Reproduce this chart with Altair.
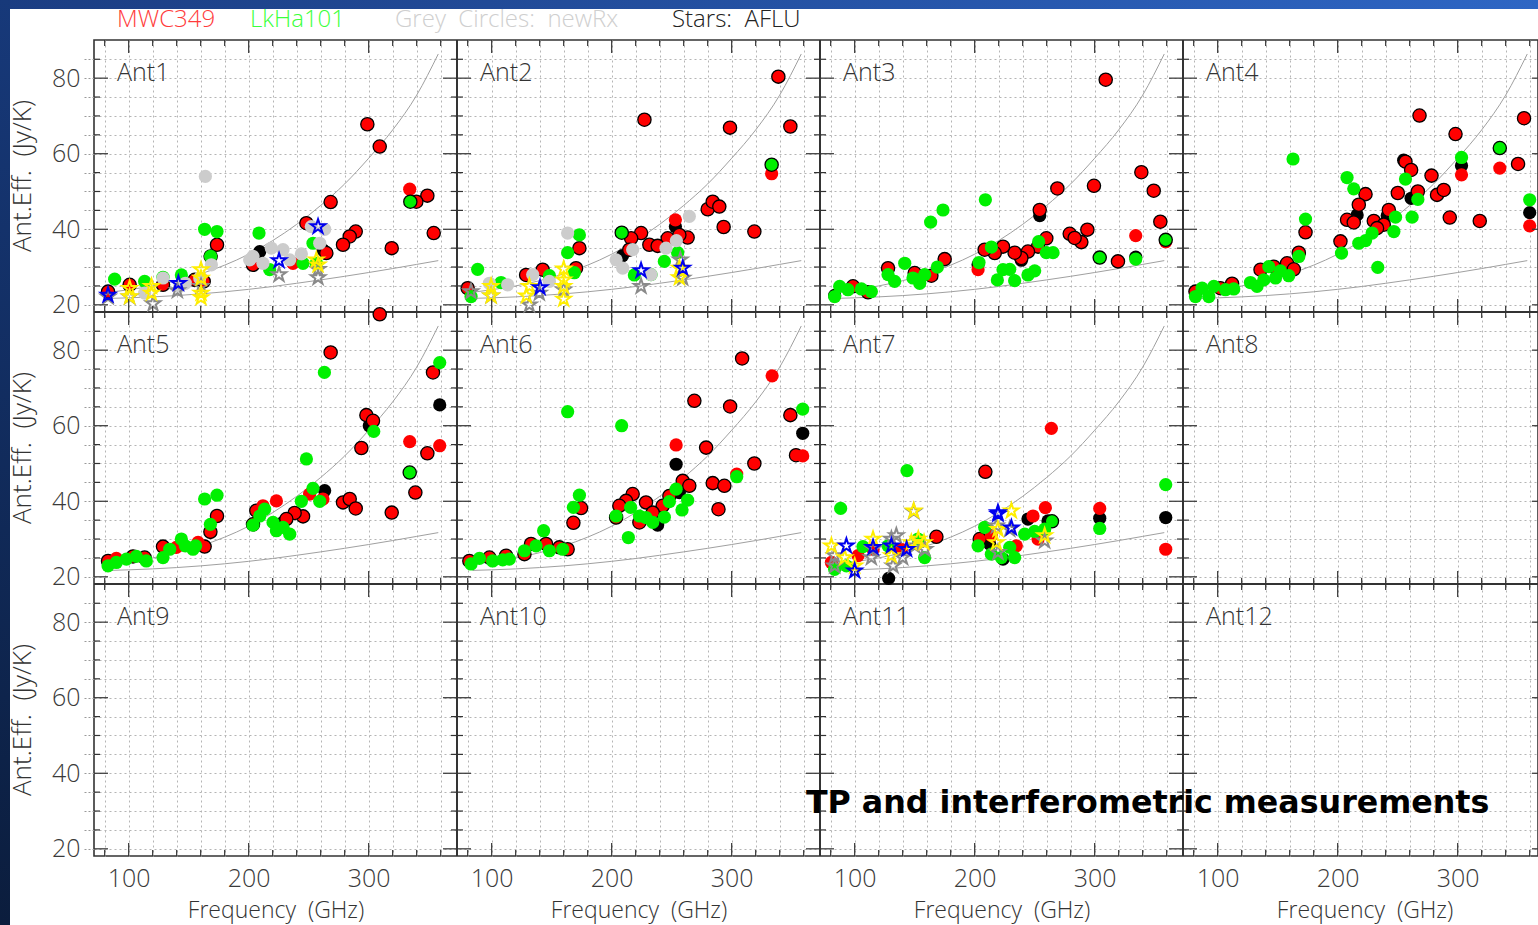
import altair as alt
import pandas as pd

ANTS = [f"Ant{i}" for i in range(1, 13)]

# Panel geometry: 4 x 3 antennas sharing one frequency / Jy-per-K range each
F_DOMAIN = [71.1, 373.6]
V_DOMAIN = [18.1, 90.1]
FSPAN = F_DOMAIN[1] - F_DOMAIN[0]
VSPAN = V_DOMAIN[1] - V_DOMAIN[0]
PANEL_W, PANEL_H = 363, 272
PLOT_W, PLOT_H = 1444, 3 * PANEL_H
FONT = "Open Sans"
GAP = "\u00a0\u00a0"  # wide word spacing used in the plot lettering

# five-pointed star outline in the unit box used by Vega symbols
STAR = ("M0,-1L0.225,-0.309L0.951,-0.309L0.363,0.118L0.588,0.809L0,0.382"
        "L-0.588,0.809L-0.363,0.118L-0.951,-0.309L-0.225,-0.309Z")

# Model curves (frequency GHz, Jy/K)
curve_freq = [84, 100, 120, 140, 160, 180, 200, 220, 240, 260, 280, 300, 320, 340, 358]
curve_hi = [23.3, 24.0, 25.0, 26.4, 28.2, 30.5, 33.4, 37.0, 41.3, 46.3, 52.0, 58.8, 66.3, 75.5, 86.4]
curve_lo = [21.7, 21.85, 22.1, 22.45, 22.9, 23.45, 24.1, 24.85, 25.7, 26.6, 27.55, 28.55, 29.6, 30.7, 31.7]

# Ant1 measurements (frequency GHz, Jy/K)
ant1_mwc_edge = [(298.9, 67.8), (309.2, 61.9), (268.3, 47.2), (348.9, 48.9), (339.7, 47.3), (354.2, 39.0),
                 (319.2, 35.0), (289.2, 39.4), (284.2, 38.1), (278.6, 35.9), (264.7, 33.7), (173.6, 35.9),
                 (168.3, 32.8), (162.5, 26.2), (203.6, 30.6), (248.1, 41.6), (128.6, 25.3), (155.0, 26.6),
                 (100.8, 25.3), (82.8, 23.5)]
ant1_mwc = [(334.2, 50.6), (236.9, 31.0)]
ant1_black = [(209.2, 34.1), (262.0, 34.5)]
ant1_lkha = [(163.3, 40.0), (173.6, 39.4), (168.3, 32.8), (208.6, 39.0), (88.3, 26.8), (113.3, 26.2),
             (143.9, 27.9), (128.6, 27.3), (217.5, 29.3), (245.3, 31.0), (256.4, 31.0), (253.6, 36.3)]
ant1_lkha_edge = [(334.7, 47.3)]
ant1_grey = [(163.9, 54.0), (203.6, 32.8), (211.9, 31.0), (218.9, 35.0), (228.6, 34.6), (234.2, 31.9),
             (243.9, 33.5), (252.2, 40.7), (263.3, 40.0), (259.2, 36.3), (168.9, 30.6), (147.2, 25.7),
             (128.6, 27.1), (113.3, 23.1), (142.5, 24.9), (159.2, 27.1), (200.8, 31.9)]
ant1_star_grey = [(82.8, 22.1), (100.8, 22.1), (120.3, 20.3), (140.6, 23.8), (160.3, 24.9), (225.3, 28.0),
                  (257.8, 29.4), (257.8, 27.2)]
ant1_star_yellow = [(100.8, 24.4), (100.8, 22.2), (119.0, 24.9), (119.0, 23.1), (160.3, 29.3), (160.3, 27.1),
                    (160.3, 21.9), (160.3, 23.1), (256.4, 31.9), (257.8, 30.6)]
ant1_star_blue = [(82.8, 22.6), (141.4, 25.7), (225.3, 31.7), (257.8, 40.7)]

# Ant2
ant2_mwc_edge = [(338.9, 80.4), (227.3, 69.0), (298.6, 66.9), (348.9, 67.2), (280.0, 45.3), (284.2, 47.3),
                 (289.7, 46.0), (293.3, 40.6), (318.9, 39.4), (263.3, 37.8), (256.4, 38.5), (246.7, 37.6),
                 (224.5, 39.0), (216.2, 37.6), (231.4, 35.9), (238.3, 35.6), (214.7, 34.6), (173.1, 35.0),
                 (170.3, 29.7), (128.7, 27.9), (142.5, 29.3), (80.0, 24.4)]
ant2_mwc = [(333.3, 54.7), (253.1, 42.5)]
ant2_black = [(253.1, 40.7), (209.0, 33.0)]
ant2_lkha = [(173.1, 38.5), (163.3, 33.8), (168.9, 28.5), (88.3, 29.4), (107.8, 25.9), (148.1, 27.7),
             (218.9, 27.9), (243.9, 31.5), (255.0, 33.8), (232.8, 28.0), (82.8, 22.2)]
ant2_lkha_edge = [(208.4, 39.1), (333.3, 57.1)]
ant2_grey = [(163.3, 39.0), (203.7, 31.9), (209.2, 29.7), (217.5, 34.6), (232.8, 28.0), (264.7, 43.4),
             (253.9, 37.0), (245.3, 35.0), (134.2, 28.0), (148.1, 26.2), (98.1, 25.7), (113.3, 25.3)]
ant2_star_grey = [(82.8, 23.5), (99.5, 22.4), (131.4, 20.0), (139.7, 23.1), (160.0, 24.0), (224.5, 24.9),
                  (257.2, 31.9), (259.2, 27.1)]
ant2_star_yellow = [(99.5, 24.9), (99.5, 22.4), (131.4, 24.9), (129.0, 22.4), (160.0, 29.5), (160.0, 26.6),
                    (160.0, 24.9), (160.0, 21.5), (256.4, 29.7), (256.4, 27.2)]
ant2_star_blue = [(140.3, 24.6), (224.5, 29.1), (259.2, 29.7)]

# Ant3
ant3_mwc_edge = [(309.2, 79.6), (338.9, 55.1), (349.2, 50.2), (354.7, 42.0), (299.4, 51.5), (268.9, 50.8),
                 (293.9, 39.9), (279.2, 38.8), (288.9, 36.6), (283.3, 37.7), (319.4, 31.5), (254.2, 45.1),
                 (259.7, 37.6), (252.8, 35.4), (244.4, 34.1), (238.9, 32.4), (233.3, 33.8), (223.6, 35.4),
                 (216.7, 33.7), (208.3, 34.6), (175.0, 32.1), (163.9, 27.7), (127.8, 29.7), (150.0, 28.4),
                 (98.6, 24.9), (111.1, 23.3)]
ant3_mwc = [(359.2, 36.7), (334.2, 38.3), (202.8, 29.3)]
ant3_black = [(254.2, 43.6), (202.8, 30.6), (83.3, 22.5), (334.2, 32.6), (238.9, 31.8)]
ant3_lkha = [(208.9, 47.8), (173.6, 45.1), (163.3, 41.9), (168.9, 30.0), (203.6, 31.2), (213.9, 35.3),
             (218.9, 26.6), (223.6, 29.3), (229.2, 29.4), (233.3, 26.4), (244.4, 27.9), (250.0, 29.0),
             (253.3, 36.7), (259.7, 33.8), (265.3, 33.8), (334.2, 32.1), (127.8, 28.0), (133.3, 26.2),
             (141.7, 31.0), (148.6, 27.1), (154.2, 25.7), (158.3, 28.0), (87.5, 24.9), (94.4, 24.0),
             (105.6, 24.2), (113.9, 23.5), (83.3, 22.2)]
ant3_lkha_edge = [(304.2, 32.5), (359.2, 37.2)]

# Ant4
ant4_mwc_edge = [(268.2, 70.1), (298.2, 65.2), (355.3, 69.4), (350.3, 57.3), (278.2, 54.2), (282.8, 49.1),
                 (288.4, 50.4), (293.4, 43.1), (318.4, 42.2), (256.5, 57.9), (261.2, 55.7), (250.1, 49.6),
                 (266.8, 50.0), (242.6, 45.1), (223.2, 49.3), (217.6, 46.5), (207.8, 42.5), (213.4, 41.8),
                 (230.1, 42.2), (238.4, 41.2), (232.8, 40.3), (202.3, 36.8), (173.2, 39.2), (167.6, 33.8),
                 (157.8, 31.0), (163.4, 29.4), (135.7, 29.3), (146.8, 30.1), (112.0, 25.6), (102.3, 24.4),
                 (81.5, 23.5)]
ant4_mwc = [(335.1, 56.2), (303.2, 54.4), (360.0, 40.9)]
ant4_black = [(303.2, 56.8), (360.0, 44.4), (261.2, 48.2), (241.3, 43.6), (216.2, 43.8), (255.0, 58.3)]
ant4_lkha = [(162.8, 58.6), (207.8, 53.7), (213.4, 50.7), (173.2, 42.7), (167.6, 32.8), (203.2, 33.7),
             (217.6, 36.3), (223.2, 37.0), (228.7, 39.0), (246.8, 39.4), (248.2, 43.2), (262.0, 43.2),
             (266.8, 47.9), (256.5, 53.3), (233.4, 29.9), (142.6, 30.1), (127.3, 25.9), (132.8, 24.9),
             (138.4, 26.6), (148.2, 27.1), (152.3, 29.0), (159.2, 27.7), (81.5, 22.2), (87.0, 24.4),
             (92.6, 22.2), (96.8, 24.9), (106.5, 24.0), (113.4, 24.2), (303.2, 59.0), (360.0, 47.8)]
ant4_lkha_edge = [(335.1, 61.5)]

# Ant5
ant5_mwc_edge = [(309.2, 89.5), (268.3, 79.4), (353.6, 74.1), (348.9, 52.7), (338.9, 42.3), (319.2, 37.0),
                 (298.1, 62.8), (303.6, 61.3), (293.9, 54.1), (278.6, 39.7), (284.2, 40.6), (289.2, 38.1),
                 (245.3, 36.0), (238.3, 36.9), (231.4, 35.3), (206.4, 37.5), (203.6, 33.9), (173.6, 36.1),
                 (168.1, 31.9), (163.3, 28.0), (128.6, 28.0), (82.8, 24.2), (103.6, 25.4), (113.3, 25.1)]
ant5_mwc = [(334.2, 55.8), (359.2, 54.7), (250.8, 41.9), (261.9, 40.6), (223.1, 40.1), (211.9, 38.8),
            (157.8, 29.1), (139.7, 27.8), (89.7, 24.9)]
ant5_black = [(359.2, 65.5), (263.3, 42.8), (228.6, 34.4), (300.5, 60.0)]
ant5_lkha = [(359.2, 76.7), (304.2, 58.5), (263.1, 74.1), (248.1, 51.2), (253.6, 43.4), (243.9, 40.0),
             (259.2, 40.0), (220.3, 34.4), (213.3, 37.9), (203.6, 33.7), (223.1, 32.2), (228.6, 33.1),
             (234.2, 31.3), (209.2, 36.1), (163.3, 40.6), (173.6, 41.6), (168.1, 33.9), (128.6, 25.1),
             (134.2, 27.3), (143.9, 30.0), (147.2, 28.2), (153.6, 27.3), (155.8, 28.2), (82.8, 22.9),
             (89.7, 23.8), (98.1, 24.7), (106.4, 25.4), (114.7, 24.2)]
ant5_lkha_edge = [(334.2, 47.6)]

# Ant6
ant6_mwc_edge = [(308.7, 77.8), (268.9, 66.6), (298.7, 65.1), (348.9, 62.8), (353.6, 52.2), (278.7, 54.2),
                 (318.9, 50.0), (284.2, 44.8), (293.9, 44.1), (289.0, 37.9), (259.2, 45.4), (264.7, 44.1),
                 (248.1, 41.4), (242.5, 38.8), (228.6, 39.7), (234.2, 37.0), (223.1, 34.4), (217.5, 41.9),
                 (212.0, 40.1), (206.4, 38.8), (203.7, 35.7), (174.5, 38.2), (168.1, 34.3), (163.3, 27.3),
                 (156.4, 27.8), (145.3, 28.7), (132.8, 28.7), (127.3, 26.0), (112.0, 25.6), (98.1, 25.1),
                 (81.4, 24.2)]
ant6_mwc = [(333.7, 73.2), (359.2, 52.0), (253.7, 54.9), (304.2, 47.2)]
ant6_black = [(359.2, 58.0), (253.7, 49.8), (256.4, 42.3), (238.3, 33.7)]
ant6_lkha = [(163.3, 63.7), (208.3, 60.0), (173.1, 41.6), (168.1, 38.4), (143.3, 32.2), (213.9, 30.4),
             (203.7, 36.1), (215.8, 38.4), (223.1, 36.1), (228.6, 35.7), (234.2, 34.4), (243.9, 35.8),
             (248.1, 39.9), (253.7, 43.2), (263.3, 40.3), (258.6, 37.7), (304.2, 46.5), (359.2, 64.4),
             (127.3, 26.9), (137.0, 28.2), (148.1, 26.9), (159.2, 27.3), (82.8, 23.4), (89.8, 24.9),
             (100.8, 24.2), (109.2, 24.5), (114.7, 24.7)]

# Ant7
ant7_mwc_edge = [(208.9, 47.8), (168.1, 30.6), (204.2, 30.0)]
ant7_mwc = [(263.9, 59.3), (304.2, 38.1), (359.2, 27.3), (258.9, 38.3), (248.6, 36.1), (252.8, 30.0),
            (234.7, 28.2), (213.9, 30.9), (138.9, 27.3), (102.8, 25.6), (80.6, 23.8), (115.3, 27.3)]
ant7_black = [(128.3, 19.6), (304.2, 35.5), (359.2, 35.7), (261.1, 34.8), (244.4, 35.3), (223.6, 24.7),
              (212.5, 28.7)]
ant7_lkha = [(88.3, 38.1), (143.6, 48.1), (359.2, 44.4), (304.2, 32.8), (258.3, 32.6), (250.0, 32.0),
             (241.7, 31.3), (208.3, 33.1), (202.8, 28.2), (213.9, 26.0), (222.2, 25.1), (233.3, 25.1),
             (229.2, 27.8), (106.9, 28.0), (93.1, 22.9), (127.8, 28.2), (152.8, 30.0), (158.3, 25.1),
             (83.3, 22.0)]
ant7_lkha_edge = [(264.4, 34.7)]
ant7_star_yellow = [(149.2, 37.5), (230.6, 37.5), (219.4, 32.6), (218.1, 29.1), (258.3, 30.9), (80.6, 28.2),
                    (100.0, 22.9), (115.3, 30.0), (130.6, 25.6), (147.2, 29.1), (153.0, 30.0), (157.8, 29.1),
                    (91.7, 25.1)]
ant7_star_grey = [(149.2, 37.3), (218.1, 33.5), (229.2, 32.6), (219.4, 26.5), (258.3, 29.5), (83.3, 25.6),
                  (83.3, 22.9), (113.9, 25.1), (115.3, 27.4), (130.6, 30.0), (132.0, 22.9), (134.7, 30.9),
                  (150.0, 28.2), (158.6, 27.3), (140.0, 25.1)]
ant7_star_blue = [(219.4, 37.0), (219.4, 36.6), (230.6, 33.0), (93.1, 28.2), (100.0, 21.6), (115.3, 27.8),
                  (130.6, 28.2), (143.3, 27.3)]

# Axis tick positions
y_major = [20, 40, 60, 80]
y_minor = [25, 30, 35, 45, 50, 55, 65, 70, 75, 85]
x_major = [100, 200, 300]
x_minor = [80, 120, 140, 160, 180, 220, 240, 260, 280, 320, 340, 360]

series = [
    ("Ant1", "mwc_e", ant1_mwc_edge), ("Ant1", "mwc", ant1_mwc), ("Ant1", "blk", ant1_black),
    ("Ant1", "lk", ant1_lkha), ("Ant1", "lk_e", ant1_lkha_edge), ("Ant1", "grey", ant1_grey),
    ("Ant1", "st_g", ant1_star_grey), ("Ant1", "st_y", ant1_star_yellow), ("Ant1", "st_b", ant1_star_blue),
    ("Ant2", "mwc_e", ant2_mwc_edge), ("Ant2", "mwc", ant2_mwc), ("Ant2", "blk", ant2_black),
    ("Ant2", "lk", ant2_lkha), ("Ant2", "lk_e", ant2_lkha_edge), ("Ant2", "grey", ant2_grey),
    ("Ant2", "st_g", ant2_star_grey), ("Ant2", "st_y", ant2_star_yellow), ("Ant2", "st_b", ant2_star_blue),
    ("Ant3", "mwc_e", ant3_mwc_edge), ("Ant3", "mwc", ant3_mwc), ("Ant3", "blk", ant3_black),
    ("Ant3", "lk", ant3_lkha), ("Ant3", "lk_e", ant3_lkha_edge),
    ("Ant4", "mwc_e", ant4_mwc_edge), ("Ant4", "mwc", ant4_mwc), ("Ant4", "blk", ant4_black),
    ("Ant4", "lk", ant4_lkha), ("Ant4", "lk_e", ant4_lkha_edge),
    ("Ant5", "mwc_e", ant5_mwc_edge), ("Ant5", "mwc", ant5_mwc), ("Ant5", "blk", ant5_black),
    ("Ant5", "lk", ant5_lkha), ("Ant5", "lk_e", ant5_lkha_edge),
    ("Ant6", "mwc_e", ant6_mwc_edge), ("Ant6", "mwc", ant6_mwc), ("Ant6", "blk", ant6_black),
    ("Ant6", "lk", ant6_lkha),
    ("Ant7", "mwc_e", ant7_mwc_edge), ("Ant7", "mwc", ant7_mwc), ("Ant7", "blk", ant7_black),
    ("Ant7", "lk", ant7_lkha), ("Ant7", "lk_e", ant7_lkha_edge),
    ("Ant7", "st_g", ant7_star_grey), ("Ant7", "st_y", ant7_star_yellow), ("Ant7", "st_b", ant7_star_blue),
]

F0, F1 = F_DOMAIN
V0, V1 = V_DOMAIN
rows = []


def add(ant, kind, f, v):
    rows.append({"ant": ant, "kind": kind, "f": f, "v": v})


for ant, kind, pts in series:
    for f, v in pts:
        add(ant, kind, f, v)
for ant in ANTS[:7]:
    for f, hi, lo in zip(curve_freq, curve_hi, curve_lo):
        add(ant, "hi", f, hi)
        add(ant, "lo", f, lo)
for i, ant in enumerate(ANTS):
    add(ant, "lab", F0, V1)
    for v in y_major:
        add(ant, "tl_M", F0, v)
        add(ant, "tr_M", F1, v)
    for v in y_minor:
        add(ant, "tl_m", F0, v)
        add(ant, "tr_m", F1, v)
    for f in x_major:
        add(ant, "tt_M", f, V1)
        add(ant, "tb_M", f, V0)
    for f in x_minor:
        add(ant, "tt_m", f, V1)
        add(ant, "tb_m", f, V0)
    if i % 4:
        add(ant, "vb", F0, V1)
    if i // 4:
        add(ant, "hb", F0, V1)
    if i % 4 == 0:
        add(ant, "ytitle", F0, (V0 + V1) / 2)
    if i // 4 == 2:
        add(ant, "xtitle", 222.8, V0)

df = pd.DataFrame(rows)
pos = df["ant"].map({a: i for i, a in enumerate(ANTS)})
df["xp"] = df["f"] + (pos % 4) * FSPAN
df["yp"] = df["v"] - (pos // 4) * VSPAN

# shared scales: each panel occupies one FSPAN x VSPAN tile
x_vals = [f + c * FSPAN for c in range(4) for f in range(80, 361, 20)]
y_vals = [v - r * VSPAN for r in range(3) for v in range(20, 90, 5)]
x_raw = f"round(datum.value - {FSPAN:.4f} * floor((datum.value - {F0}) / {FSPAN:.4f}))"
y_raw = f"round(datum.value + {VSPAN:.4f} * floor(({V1} - datum.value) / {VSPAN:.4f}))"

X = alt.X(
    "xp:Q",
    scale=alt.Scale(domain=[F0, F0 + FSPAN * PLOT_W / PANEL_W], nice=False, zero=False),
    axis=alt.Axis(
        values=x_vals,
        labelExpr=f"{x_raw} % 100 == 0 ? '' + {x_raw} : ''",
        grid=True, gridDash=[2, 3], gridColor="#b5b5b5", gridWidth=1,
        ticks=False, domain=False, labelOverlap=False, labelFlush=False,
        labelFont=FONT, labelFontSize=25, labelFontWeight=300, labelColor="#3a3a3a",
        labelPadding=10, title=None,
    ),
)
Y = alt.Y(
    "yp:Q",
    scale=alt.Scale(domain=[V1 - 3 * VSPAN, V1], nice=False, zero=False),
    axis=alt.Axis(
        values=y_vals,
        labelExpr=f"{y_raw} % 20 == 0 ? '' + {y_raw} : ''",
        grid=True, gridDash=[2, 3], gridColor="#b5b5b5", gridWidth=1,
        ticks=True, tickSize=11, tickDash=[2, 2], tickColor="#9a9a9a",
        domain=False, labelOverlap=False, labelFlush=False,
        labelFont=FONT, labelFontSize=25, labelFontWeight=300, labelColor="#3a3a3a",
        labelPadding=3, title=None,
    ),
)

base = alt.Chart(df)


def only(kind):
    return base.transform_filter(alt.datum.kind == kind)


INK = "#333333"

frames = [
    only("vb").mark_rule(color=INK, strokeWidth=1.6).encode(x=X),
    only("hb").mark_rule(color=INK, strokeWidth=1.6).encode(y=Y),
]

tick_layers = []
for kind, orient, length, sign in [
    ("tl_M", "horizontal", 14, 1), ("tl_m", "horizontal", 6, 1),
    ("tr_M", "horizontal", 14, -1), ("tr_m", "horizontal", 6, -1),
    ("tt_M", "vertical", 13, 1), ("tt_m", "vertical", 6, 1),
    ("tb_M", "vertical", 13, -1), ("tb_m", "vertical", 6, -1),
]:
    shift = {"xOffset": sign * length / 2} if orient == "horizontal" else {"yOffset": sign * length / 2}
    tick_layers.append(
        only(kind).mark_tick(orient=orient, size=length, thickness=1.2, color=INK, opacity=1, **shift)
        .encode(x=X, y=Y)
    )

curves = [
    only(k).mark_line(color="#a0a0a0", strokeWidth=1, interpolate="monotone")
    .encode(x=X, y=Y, detail="ant:N", order="f:Q")
    for k in ("hi", "lo")
]


def dots(kind, fill, edge=False):
    kw = dict(size=175, opacity=1, color=fill)
    if edge:
        kw.update(stroke="black", strokeWidth=1.3)
    return only(kind).mark_circle(**kw).encode(x=X, y=Y)


def stars(kind, col):
    return only(kind).mark_point(shape=STAR, filled=False, size=225, strokeWidth=2,
                                 opacity=1, color=col).encode(x=X, y=Y)


point_layers = [
    dots("blk", "#000000"),
    dots("mwc_e", "#ff0000", edge=True),
    dots("mwc", "#ff0000"),
    dots("lk_e", "#00f000", edge=True),
    dots("lk", "#00f000"),
    dots("grey", "#cccccc"),
    stars("st_g", "#8a8a8a"),
    stars("st_y", "#ffee00"),
    stars("st_b", "#0000ee"),
]

ant_labels = only("lab").mark_text(
    align="left", baseline="alphabetic", dx=23, dy=41,
    font=FONT, fontSize=25, fontWeight=300, color=INK,
).encode(x=X, y=Y, text="ant:N")

y_titles = only("ytitle").mark_text(
    text=f"Ant.Eff.{GAP}(Jy/K)", angle=270, align="center", baseline="middle",
    font=FONT, fontSize=26, fontWeight=300, color=INK,
).encode(x=alt.value(-71), y=Y)

x_titles = only("xtitle").mark_text(
    text=f"Frequency{GAP}(GHz)", align="center", baseline="alphabetic",
    font=FONT, fontSize=23, fontWeight=300, color=INK,
).encode(x=X, y=alt.value(PLOT_H + 62))

deco = alt.Chart(pd.DataFrame({"k": [0]}))

# slide background strips along the top and left edges
band_top = deco.mark_rect(
    color=alt.LinearGradient(
        gradient="linear", x1=0, x2=1, y1=0, y2=0,
        stops=[alt.GradientStop(color="#1b3d82", offset=0), alt.GradientStop(color="#2e66c4", offset=1)],
    )
).encode(x=alt.value(-94), x2=alt.value(PLOT_W), y=alt.value(-40), y2=alt.value(-31))
band_left = deco.mark_rect(
    color=alt.LinearGradient(
        gradient="linear", x1=0, x2=0, y1=0, y2=1,
        stops=[alt.GradientStop(color="#17397a", offset=0), alt.GradientStop(color="#0b1d3d", offset=1)],
    )
).encode(x=alt.value(-94), x2=alt.value(-84), y=alt.value(-40), y2=alt.value(PLOT_H + 69))

legend = [
    deco.mark_text(text=txt, align="left", baseline="alphabetic", font=FONT, fontSize=24,
                   fontWeight=300, color=col).encode(x=alt.value(x0), y=alt.value(-13))
    for txt, col, x0 in [
        ("MWC349", "#ff3b3b", 23),
        ("LkHa101", "#3bff3b", 156),
        (f"Grey{GAP}Circles:{GAP}newRx", "#cfcfcf", 301),
        (f"Stars:{GAP}AFLU", "#222222", 578),
    ]
]

headline = deco.mark_text(
    text="TP and interferometric measurements", align="left", baseline="alphabetic",
    font="DejaVu Sans", fontSize=31.7, fontWeight="bold", color="#000000",
).encode(x=alt.value(712), y=alt.value(773))

chart = alt.layer(
    band_top, band_left, *frames, *curves, *point_layers, *tick_layers,
    ant_labels, y_titles, x_titles, *legend, headline,
).properties(
    width=PLOT_W,
    height=PLOT_H,
    autosize=alt.AutoSizeParams(type="none"),
    padding={"left": 94, "top": 40, "right": 0, "bottom": 69},
    background="white",
).configure_view(
    stroke=INK, strokeWidth=1.6
)

chart.save("out.html", embed_options={"renderer": "svg", "actions": False})
